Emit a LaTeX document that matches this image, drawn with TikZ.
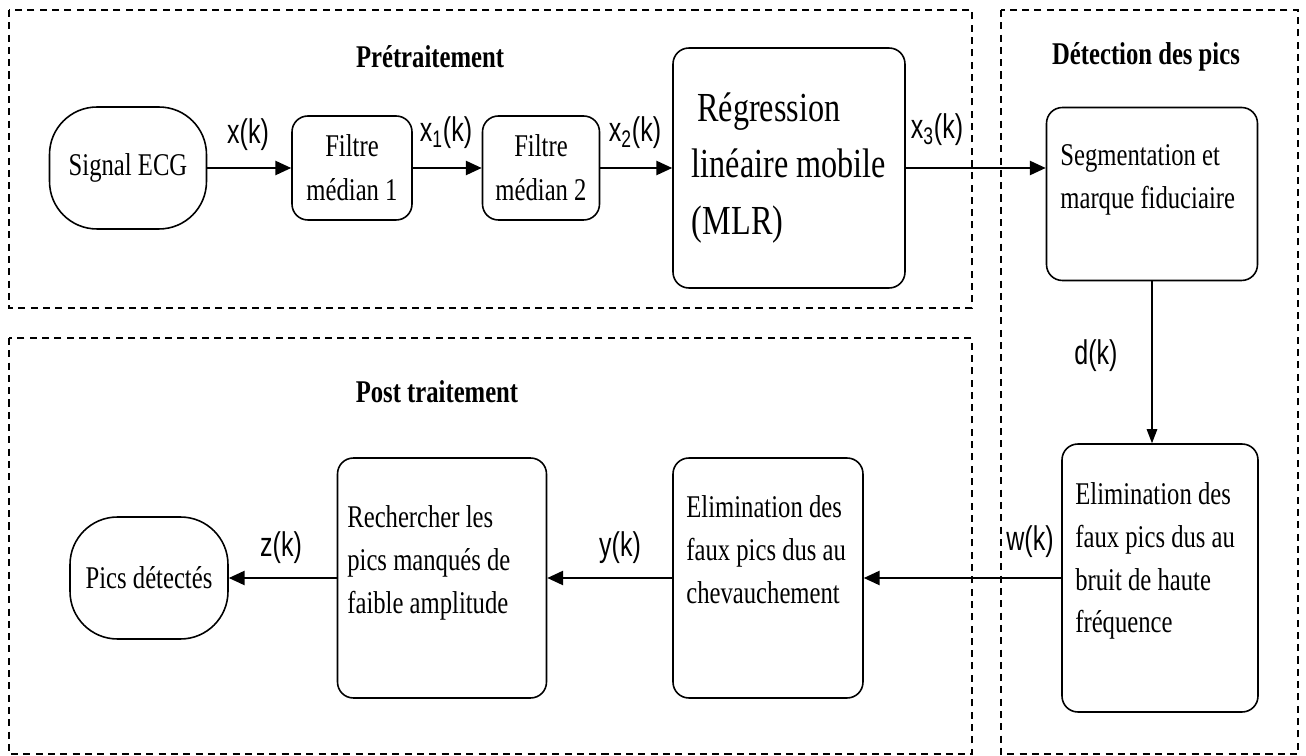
\documentclass[tikz,border=0pt]{standalone}
\usepackage{fontspec}
\setmainfont[FakeStretch=0.78]{Liberation Serif}
\newfontfamily\arialfont[FakeStretch=0.73]{Liberation Sans}
\usetikzlibrary{arrows.meta, positioning}

\begin{document}
\begin{tikzpicture}[
    x=0.02cm, y=-0.02cm,
    term/.style={draw, line width=0.9pt, rounded corners=0.95cm, minimum height=2.44cm, font=\fontsize{18}{20}\selectfont, align=center},
    block/.style={draw, line width=0.9pt, rounded corners=9pt, font=\fontsize{18}{25}\selectfont, align=center},
    boxtext/.style={font=\fontsize{18}{24.4}\selectfont, align=left, inner sep=0pt, anchor=west},
    sig/.style={font=\arialfont\fontsize{19.5}{20}\selectfont, inner sep=1pt},
    title/.style={font=\bfseries\fontsize{18}{20}\selectfont},
    group/.style={dash pattern=on 4pt off 3pt, line width=0.7pt},
    flow/.style={line width=1.2pt, -{Triangle[length=9pt,width=8pt]}}
]
    \useasboundingbox (0,0) rectangle (1306,756);

    % Group frames
    \draw[group] (9,10) rectangle (972,308);
    \draw[group] (9,338) rectangle (972,754);
    \draw[group] (1001,10) rectangle (1298,754);
    \node[title] (pretitle) at (430,57) {Prétraitement};
    \node[title] (dettitle) at (1146,57) {Détection des pics};
    \node[title] (posttitle) at (437,392) {Post traitement};

    % Preprocessing chain
    \node[term, minimum width=3.14cm] (ecg) at (128,168) {Signal ECG};
    \node[block, minimum width=2.4cm, minimum height=2.08cm] (med1) at (352,168) {Filtre\\médian 1};
    \node[block, minimum width=2.34cm, minimum height=2.08cm] (med2) at (541,168) {Filtre\\médian 2};
    \node[block, minimum width=4.64cm, minimum height=4.8cm, font=\fontsize{23.5}{32}\selectfont, align=left] (mlr) at (789,168) {\hspace{3pt}Régression\\linéaire mobile\\(MLR)};

    % Peak detection
    \node[block, minimum width=4.22cm, minimum height=3.46cm] (seg) at (1152,194) {};
    \node[boxtext] (segtxt) at (1060,180) {Segmentation et\\marque fiduciaire};
    \node[block, minimum width=3.92cm, minimum height=5.36cm] (elimhf) at (1160,578) {};
    \node[boxtext] (elimhftxt) at (1075,561) {Elimination des\\faux pics dus au\\bruit de haute\\fréquence};

    % Post processing
    \node[block, minimum width=3.8cm, minimum height=4.8cm] (elimch) at (768,578) {};
    \node[boxtext] (elimchtxt) at (686,550) {Elimination des\\faux pics dus au\\chevauchement};
    \node[block, minimum width=4.18cm, minimum height=4.8cm] (rech) at (442,578) {};
    \node[boxtext] (rechtxt) at (347,563) {Rechercher les\\pics manqués de\\faible amplitude};
    \node[term, minimum width=3.16cm] (pics) at (149,578) {Pics détectés};

    % Signal labels
    \node[sig] (lx) at (248,135) {x(k)};
    \node[sig] (lx1) at (446,133) {x\textsubscript{1}(k)};
    \node[sig] (lx2) at (635,133) {x\textsubscript{2}(k)};
    \node[sig] (lx3) at (937,130) {x\textsubscript{3}(k)};
    \node[sig] (ld) at (1096,356) {d(k)};
    \node[sig] (lw) at (1030,542) {w(k)};
    \node[sig] (ly) at (620,548) {y(k)};
    \node[sig] (lz) at (281,548) {z(k)};

    % Connections
    \draw[flow] (ecg) -- (med1);
    \draw[flow] (med1) -- (med2);
    \draw[flow] (med2) -- (mlr);
    \draw[flow] (mlr.east) -- (mlr.east -| seg.west);
    \draw[line width=0.6pt, -{Triangle[length=8pt,width=6pt]}] (seg.south) -- (seg.south |- elimhf.north);
    \draw[flow] (elimhf) -- (elimch);
    \draw[flow] (elimch) -- (rech);
    \draw[flow] (rech) -- (pics);
\end{tikzpicture}
\end{document}
